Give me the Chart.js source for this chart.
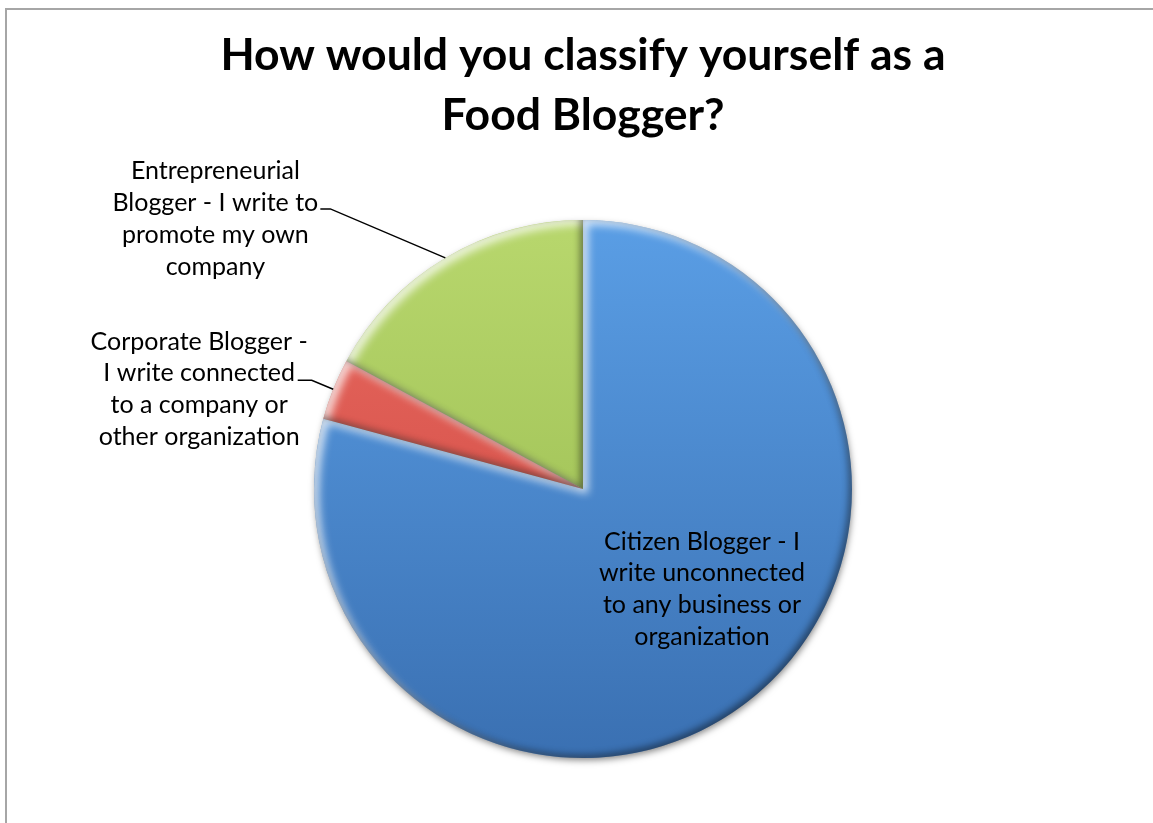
<!DOCTYPE html>
<html>
<head>
<meta charset="utf-8">
<title>How would you classify yourself as a Food Blogger?</title>
<script src="https://cdn.jsdelivr.net/npm/chart.js@4.4.1/dist/chart.umd.min.js"></script>
<style>
  html, body { margin: 0; padding: 0; background: #fff; overflow: hidden; }
  #frame { position: absolute; left: 5px; top: 8px; width: 1300px; height: 1000px; border: 2px solid #a6a6a6; }
  #wrap { position: absolute; left: 0; top: 0; width: 1153px; height: 823px; }
</style>
</head>
<body>
<div id="frame"></div>
<div id="wrap"><canvas id="pie"></canvas></div>
<script>
// survey answers, clockwise from 12 o'clock
const categories = [
  "Citizen Blogger - I write unconnected to any business or organization",
  "Corporate Blogger - I write connected to a company or other organization",
  "Entrepreneurial Blogger - I write to promote my own company"
];
const shares = [79.2, 3.7, 17.1];
const titleLines = ["How would you classify yourself as a", "Food Blogger?"];
const labelLines = [
  ["Citizen Blogger - I", "write unconnected", "to any business or", "organization"],
  ["Corporate Blogger -", "I write connected", "to a company or", "other organization"],
  ["Entrepreneurial", "Blogger - I write to", "promote my own", "company"]
];

// slice fills: [top, bottom] of a vertical gradient
const sliceColors = [
  ["#5a9ee5", "#3a70b2"],
  ["#ea6a61", "#c9443d"],
  ["#b8d76d", "#94b74b"]
];

// label placement: inside labels offset from the pie centre,
// outside labels offset from the rim point at the slice middle
const labelPlacement = [
  { inside: true, dx: 119, dy: 100 },
  { dx: -134, dy: 0, leader: [[-21.5, -9], [-35.5, -9]] },
  { dx: -230, dy: -39, leader: [[-115, -49], [-125, -49]] }
];
const FONT = "Lato, 'Open Sans', sans-serif";
const LABEL_SIZE = 25;
const LINE_H = 31.7;

function arcGeometry(arc) {
  return arc.getProps(["x", "y", "startAngle", "endAngle", "outerRadius"], true);
}

function arcPath(ctx, g, shift) {
  const s = shift || 0;
  ctx.moveTo(g.x + s, g.y);
  ctx.arc(g.x + s, g.y, g.outerRadius, g.startAngle, g.endAngle);
  ctx.closePath();
}

// drop shadow under the pie and a soft bevel on every slice
const bevel = {
  id: "bevel",
  beforeDatasetsDraw(chart) {
    const g = arcGeometry(chart.getDatasetMeta(0).data[0]);
    const ctx = chart.ctx;
    ctx.save();
    ctx.shadowColor = "rgba(0,0,0,0.5)";
    ctx.shadowBlur = 7;
    ctx.shadowOffsetX = 1;
    ctx.shadowOffsetY = 3;
    ctx.fillStyle = "#777";
    ctx.beginPath();
    ctx.arc(g.x, g.y, g.outerRadius - 1, 0, Math.PI * 2);
    ctx.fill();
    ctx.restore();
  },
  afterDatasetsDraw(chart) {
    const ctx = chart.ctx;
    const far = 5000;
    chart.getDatasetMeta(0).data.forEach((arc) => {
      const g = arcGeometry(arc);
      ctx.save();
      ctx.beginPath();
      arcPath(ctx, g);
      ctx.clip();
      [["rgba(255,255,255,0.75)", 5, 9], ["rgba(0,0,0,0.45)", -3, 7]].forEach(([col, off, blur]) => {
        ctx.save();
        ctx.beginPath();
        ctx.rect(g.x + far - g.outerRadius - 200, g.y - g.outerRadius - 200,
                 2 * g.outerRadius + 400, 2 * g.outerRadius + 400);
        arcPath(ctx, g, far);
        ctx.shadowColor = col;
        ctx.shadowBlur = blur;
        ctx.shadowOffsetX = off - far;
        ctx.shadowOffsetY = off;
        ctx.fillStyle = "#000";
        ctx.fill("evenodd");
        ctx.restore();
      });
      ctx.restore();
    });
  }
};

// category labels with leader lines
const sliceLabels = {
  id: "sliceLabels",
  afterDraw(chart) {
    const ctx = chart.ctx;
    ctx.save();
    ctx.font = LABEL_SIZE + "px " + FONT;
    ctx.fillStyle = "#000";
    ctx.textAlign = "center";
    ctx.textBaseline = "middle";
    chart.getDatasetMeta(0).data.forEach((arc, i) => {
      const g = arcGeometry(arc);
      const p = labelPlacement[i];
      const mid = (g.startAngle + g.endAngle) / 2;
      const ax = p.inside ? g.x : g.x + Math.cos(mid) * g.outerRadius;
      const ay = p.inside ? g.y : g.y + Math.sin(mid) * g.outerRadius;
      if (p.leader) {
        ctx.strokeStyle = "#000";
        ctx.lineWidth = 1.5;
        ctx.beginPath();
        ctx.moveTo(ax, ay);
        p.leader.forEach(([lx, ly]) => ctx.lineTo(ax + lx, ay + ly));
        ctx.stroke();
      }
      const lines = labelLines[i];
      lines.forEach((t, k) => {
        ctx.fillText(t, ax + p.dx, ay + p.dy + (k - (lines.length - 1) / 2) * LINE_H);
      });
    });
    ctx.restore();
  }
};

new Chart(document.getElementById("pie"), {
  type: "pie",
  data: {
    labels: categories,
    datasets: [{
      data: shares,
      radius: 269,
      borderWidth: 0,
      backgroundColor(c) {
        const area = c.chart.chartArea;
        const cols = sliceColors[c.dataIndex];
        if (!area) return cols[0];
        const grad = c.chart.ctx.createLinearGradient(0, area.top, 0, area.bottom);
        grad.addColorStop(0, cols[0]);
        grad.addColorStop(1, cols[1]);
        return grad;
      }
    }]
  },
  options: {
    responsive: true,
    maintainAspectRatio: false,
    animation: false,
    events: [],
    layout: { padding: { left: 13, bottom: 65 } },
    plugins: {
      legend: { display: false },
      tooltip: { enabled: false },
      title: {
        display: true,
        text: titleLines,
        color: "#000",
        font: { family: FONT, size: 44.5, weight: "bold", lineHeight: "60px" },
        padding: { top: 26, bottom: 74 }
      }
    }
  },
  plugins: [bevel, sliceLabels]
});
</script>
</body>
</html>
